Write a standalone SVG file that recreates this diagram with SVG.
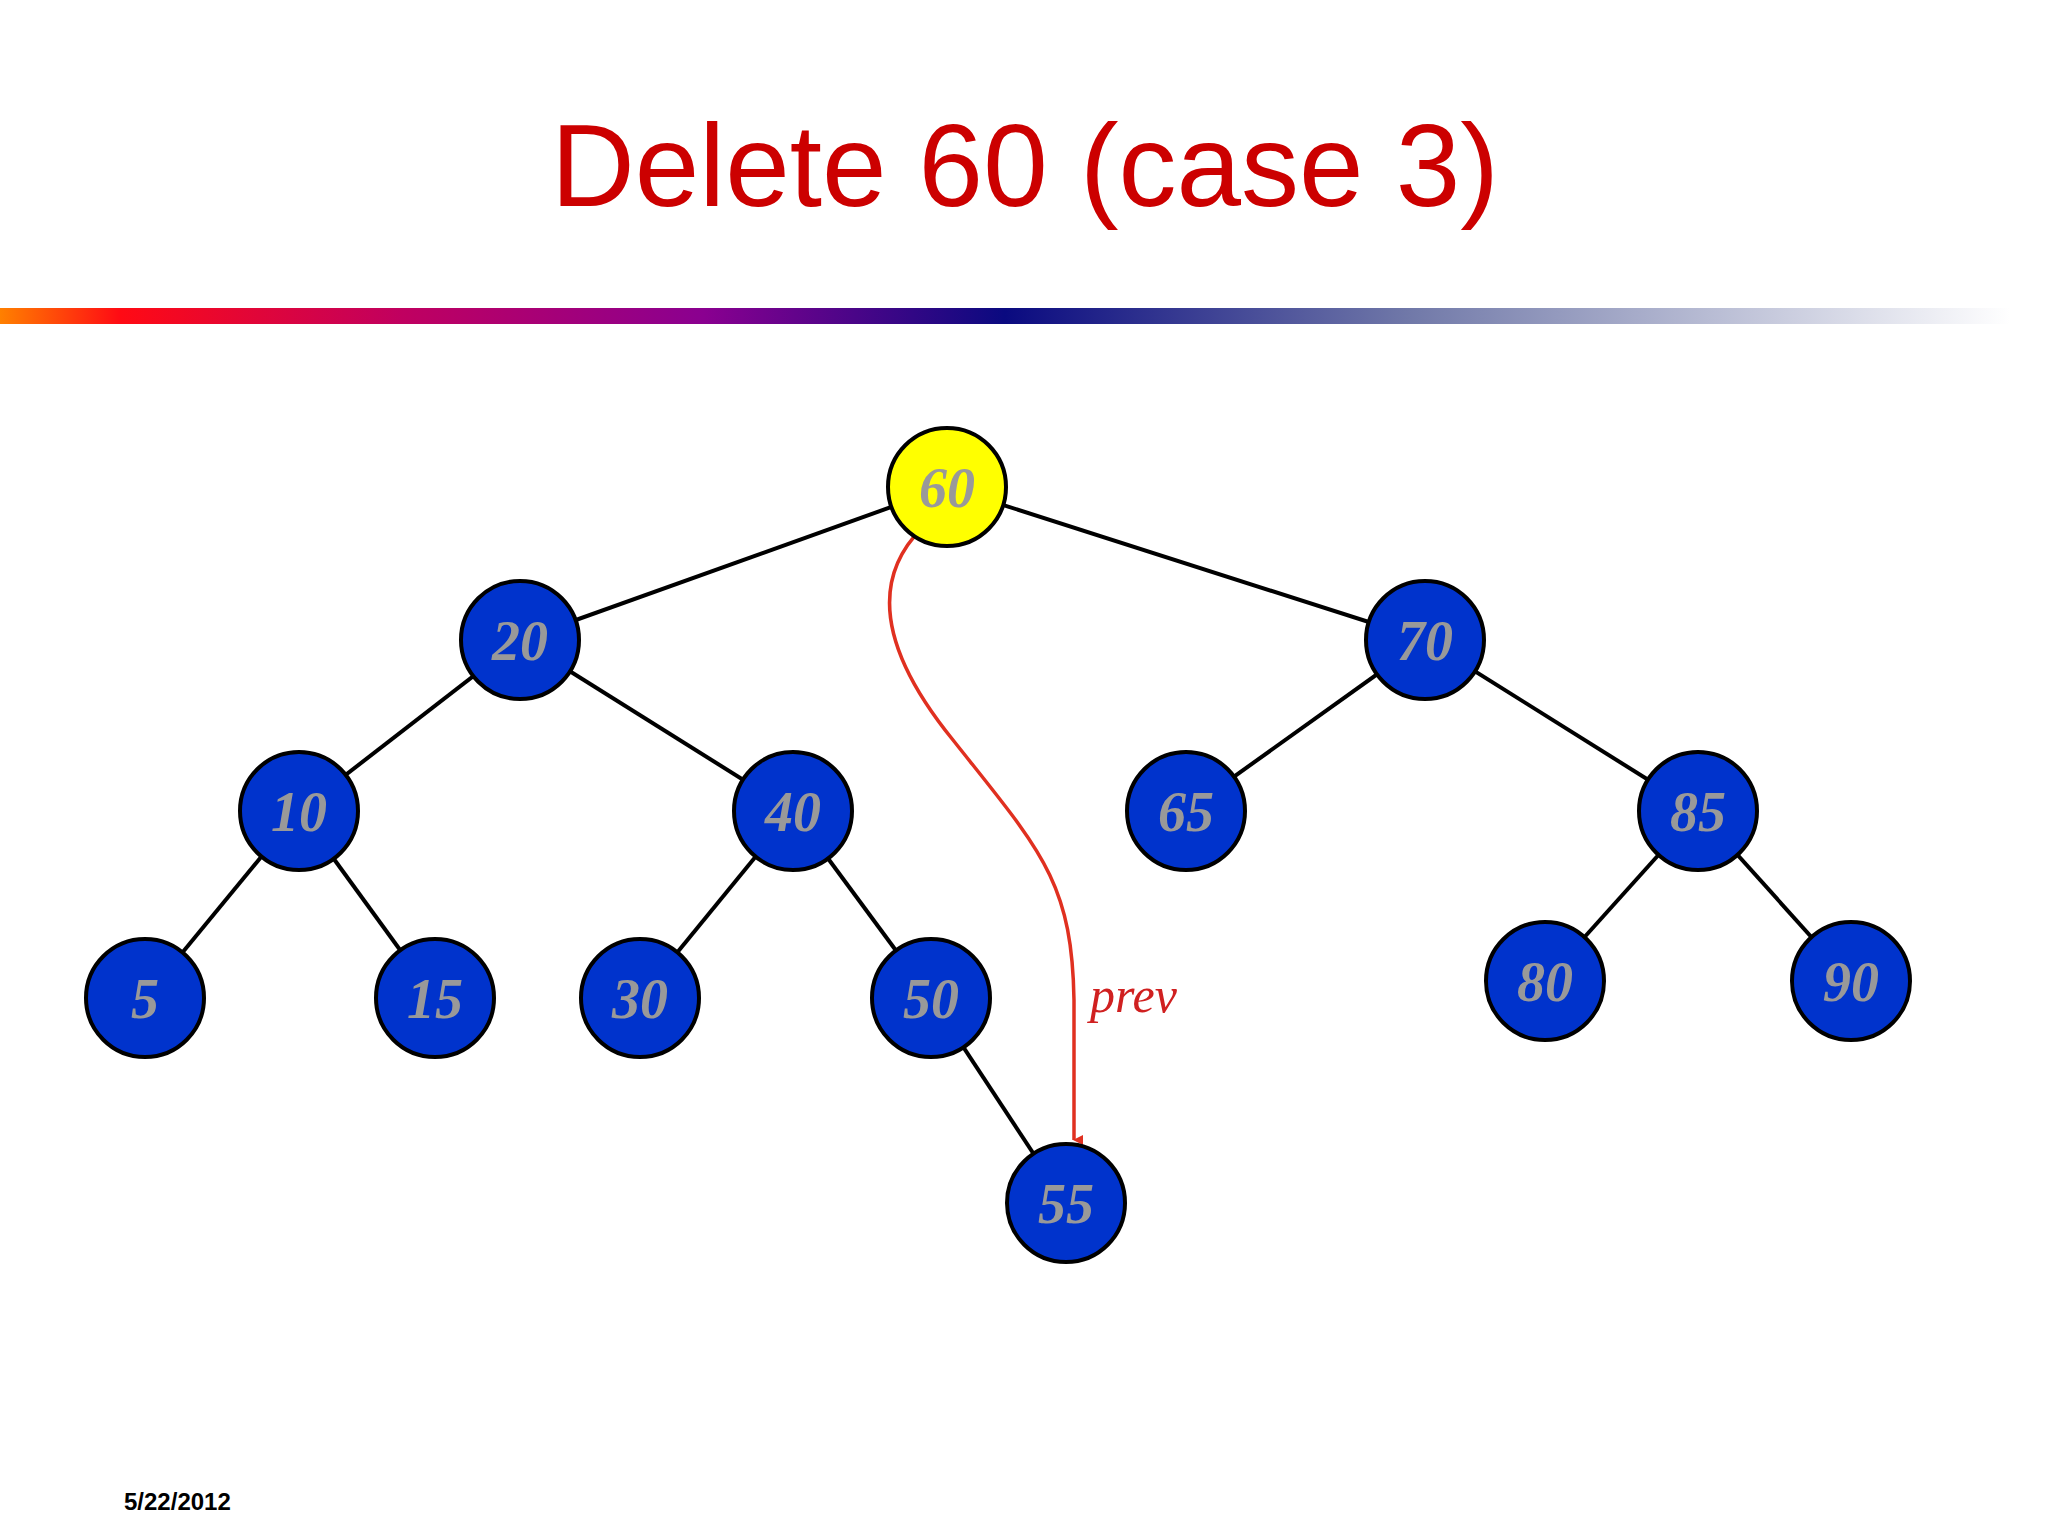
<svg xmlns="http://www.w3.org/2000/svg" width="2048" height="1536" viewBox="0 0 2048 1536">
<defs>
<linearGradient id="bar" x1="0" x2="1" y1="0" y2="0">
<stop offset="0" stop-color="#ff8000"/><stop offset="0.06" stop-color="#ff0a14"/><stop offset="0.2" stop-color="#c00060"/><stop offset="0.35" stop-color="#8a0090"/><stop offset="0.5" stop-color="#0a0a80"/><stop offset="0.7" stop-color="#7078a8"/><stop offset="1" stop-color="#ffffff"/>
</linearGradient>
<marker id="arr" markerWidth="10" markerHeight="10" refX="5" refY="9" orient="auto" markerUnits="userSpaceOnUse" viewBox="0 0 10 10"><path d="M0,0 L10,0 L5,10 Z" fill="#e03020"/></marker>
<style>
.n{fill:#0033cc;stroke:#000;stroke-width:4}
.t{font-family:"Liberation Serif",serif;font-style:italic;font-weight:bold;font-size:56px;fill:#999;text-anchor:middle}
.e{stroke:#000;stroke-width:4}
</style>
</defs>
<rect width="2048" height="1536" fill="#fff"/>
<text x="1025" y="206" font-family="Liberation Sans,Arial,sans-serif" font-size="116" fill="#cc0000" text-anchor="middle">Delete 60 (case 3)</text>
<rect x="0" y="308" width="2010" height="16" fill="url(#bar)"/>
<text x="124" y="1510" font-family="Liberation Sans,Arial,sans-serif" font-weight="bold" font-size="24" fill="#000">5/22/2012</text>
<g id="connectors">
<line class="e" x1="947" y1="487" x2="520" y2="640"/>
<line class="e" x1="947" y1="487" x2="1425" y2="640"/>
<line class="e" x1="520" y1="640" x2="299" y2="811"/>
<line class="e" x1="520" y1="640" x2="793" y2="811"/>
<line class="e" x1="1425" y1="640" x2="1186" y2="811"/>
<line class="e" x1="1425" y1="640" x2="1698" y2="811"/>
<line class="e" x1="299" y1="811" x2="145" y2="998"/>
<line class="e" x1="299" y1="811" x2="435" y2="998"/>
<line class="e" x1="793" y1="811" x2="640" y2="998"/>
<line class="e" x1="793" y1="811" x2="931" y2="998"/>
<line class="e" x1="1698" y1="811" x2="1545" y2="981"/>
<line class="e" x1="1698" y1="811" x2="1851" y2="981"/>
<line class="e" x1="931" y1="998" x2="1066" y2="1203"/>
<path d="M922,528 C870,580 880,650 953,740 C1040,850 1072,880 1074,1000 L1074,1140" fill="none" stroke="#e03020" stroke-width="3.5" marker-end="url(#arr)"/>
<text x="1090" y="1012" font-family="Liberation Serif,serif" font-style="italic" font-size="50" fill="#d02020">prev</text>
</g>
<g id="n60"><circle cx="947" cy="487" r="59" fill="#ffff00" stroke="#000" stroke-width="4"/><text class="t" x="947" y="507">60</text></g>
<g id="n20"><circle class="n" cx="520" cy="640" r="59"/><text class="t" x="520" y="660">20</text></g>
<g id="n70"><circle class="n" cx="1425" cy="640" r="59"/><text class="t" x="1425" y="660">70</text></g>
<g id="n10"><circle class="n" cx="299" cy="811" r="59"/><text class="t" x="299" y="831">10</text></g>
<g id="n40"><circle class="n" cx="793" cy="811" r="59"/><text class="t" x="793" y="831">40</text></g>
<g id="n65"><circle class="n" cx="1186" cy="811" r="59"/><text class="t" x="1186" y="831">65</text></g>
<g id="n85"><circle class="n" cx="1698" cy="811" r="59"/><text class="t" x="1698" y="831">85</text></g>
<g id="n5"><circle class="n" cx="145" cy="998" r="59"/><text class="t" x="145" y="1018">5</text></g>
<g id="n15"><circle class="n" cx="435" cy="998" r="59"/><text class="t" x="435" y="1018">15</text></g>
<g id="n30"><circle class="n" cx="640" cy="998" r="59"/><text class="t" x="640" y="1018">30</text></g>
<g id="n50"><circle class="n" cx="931" cy="998" r="59"/><text class="t" x="931" y="1018">50</text></g>
<g id="n80"><circle class="n" cx="1545" cy="981" r="59"/><text class="t" x="1545" y="1001">80</text></g>
<g id="n90"><circle class="n" cx="1851" cy="981" r="59"/><text class="t" x="1851" y="1001">90</text></g>
<g id="n55"><circle class="n" cx="1066" cy="1203" r="59"/><text class="t" x="1066" y="1223">55</text></g>
</svg>
